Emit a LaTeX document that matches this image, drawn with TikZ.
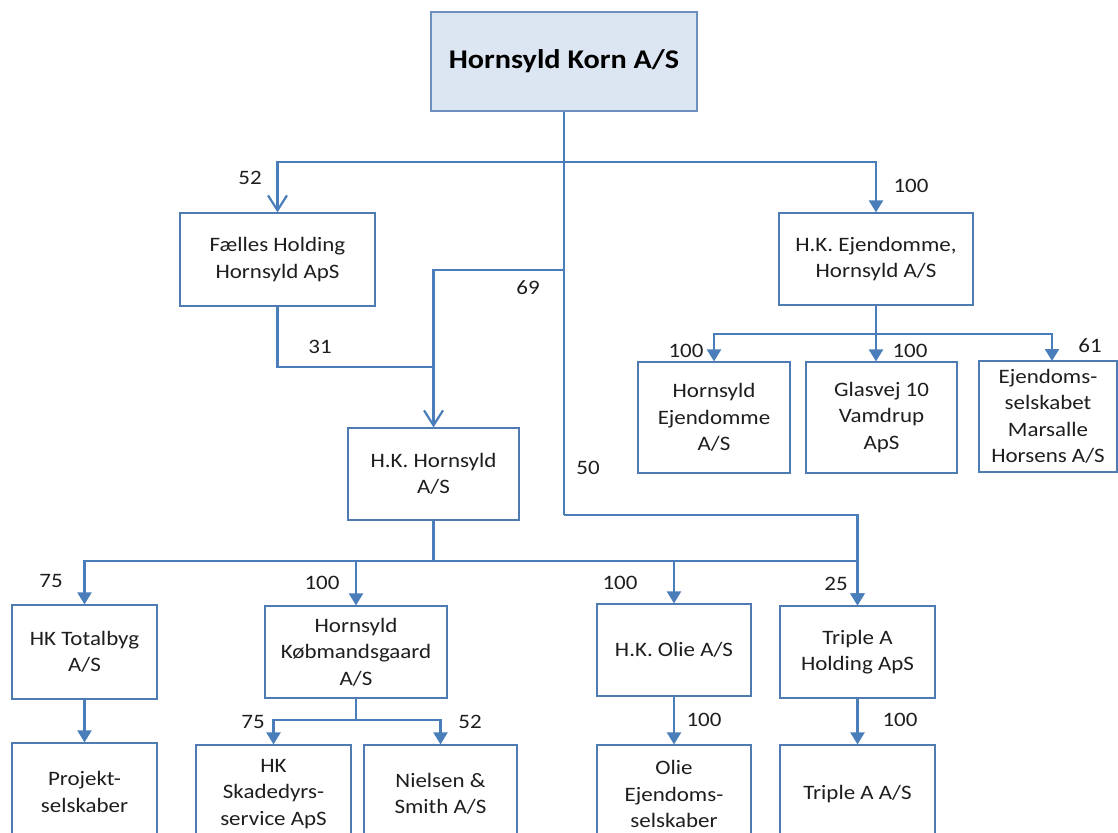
\documentclass[tikz,border=0pt]{standalone}
\usepackage{fontspec}
\setmainfont[FakeStretch=1.12]{Carlito}
\usetikzlibrary{arrows.meta}
\definecolor{lineblue}{HTML}{4A7EBB}
\definecolor{boxblue}{HTML}{4F7BB3}
\definecolor{titlefill}{HTML}{DCE6F2}
\definecolor{titleborder}{HTML}{6F8FBF}
\definecolor{txt}{HTML}{1E1E1E}
\tikzset{
  box/.style={draw=boxblue, line width=1.2pt, fill=white, align=center, inner sep=2pt,
    font=\fontsize{20.5}{26.5}\selectfont, text=txt},
  titlebox/.style={draw=titleborder, line width=1.3pt, fill=titlefill, align=center,
    font=\fontsize{27}{30}\selectfont\bfseries, text=black},
  conn/.style={draw=lineblue, line width=2.2pt},
  tri/.style={-{Triangle[width=14pt,length=12pt]}},
  barb/.style={-{Straight Barb[width=19pt,length=15pt]}},
  pct/.style={font=\fontsize{20.5}{22}\selectfont, text=txt, inner sep=0pt},
}
\begin{document}
\begin{tikzpicture}[x=1pt,y=-1pt]
\useasboundingbox (0,0) rectangle (1118,832);
\clip (0,0) rectangle (1118,832);
\fill[white] (0,0) rectangle (1118,832);

% nodes
\node[titlebox, minimum width=266pt, minimum height=99pt] (top) at (564,61.5) {Hornsyld Korn A/S};
\node[box, minimum width=195pt, minimum height=93pt] (fh) at (277.5,259.5) {Fælles Holding\\Hornsyld ApS};
\node[box, minimum width=194pt, minimum height=92pt] (hke) at (876,259) {H.K. Ejendomme,\\Hornsyld A/S};
\node[box, minimum width=171pt, minimum height=92pt] (hkh) at (433.5,474) {H.K. Hornsyld\\A/S};
\node[box, minimum width=152pt, minimum height=111pt] (he) at (714,417.5) {Hornsyld\\Ejendomme\\A/S};
\node[box, minimum width=151pt, minimum height=111pt] (gv) at (881.5,417.5) {Glasvej 10\\Vamdrup\\ApS};
\node[box, minimum width=138pt, minimum height=111pt] (em) at (1048,416.5) {Ejendoms-\\selskabet\\Marsalle\\Horsens A/S};
\node[box, minimum width=145pt, minimum height=94pt] (tb) at (84.5,652) {HK Totalbyg\\A/S};
\node[box, minimum width=182pt, minimum height=92pt] (kb) at (356,652) {Hornsyld\\Købmandsgaard\\A/S};
\node[box, minimum width=154pt, minimum height=92pt] (olie) at (674,650) {H.K. Olie A/S};
\node[box, minimum width=155pt, minimum height=92pt] (ta) at (857.5,652) {Triple A\\Holding ApS};
\node[box, minimum width=145pt, minimum height=98pt] (proj) at (84.5,792) {Projekt-\\selskaber};
\node[box, minimum width=155pt, minimum height=98pt] (sk) at (273.5,794) {HK\\Skadedyrs-\\service ApS};
\node[box, minimum width=153pt, minimum height=98pt] (ns) at (440.5,794) {Nielsen \&\\Smith A/S};
\node[box, minimum width=154pt, minimum height=98pt] (oe) at (674,794) {Olie\\Ejendoms-\\selskaber};
\node[box, minimum width=155pt, minimum height=98pt] (taa) at (857.5,794) {Triple A A/S};

% junction coordinates
\coordinate (h1) at (564,162);
\coordinate (h2) at (564,270);
\coordinate (j50) at (564,515);
\coordinate (j31) at (433.5,367);
\coordinate (h3) at (433.5,561);
\coordinate (h4) at (356,720);
\coordinate (h5) at (876,334);
\coordinate (emin) at (1052,361);

% connectors
\draw[conn] (top.south) -- (j50);
\draw[conn, barb] (h1) -| (fh.north);
\draw[conn, tri] (h1) -| (hke.north);
\draw[conn, barb] (h2) -| (hkh.north);
\draw[conn] (fh.south) |- (j31);
\draw[conn, tri] (j50) -| (ta.north);
\draw[conn] (hkh.south) -- (h3);
\draw[conn, tri] (h3) -| (tb.north);
\draw[conn, tri] (h3) -| (kb.north);
\draw[conn, tri] (h3) -| (olie.north);
\draw[conn, tri] (h3) -| (ta.north);
\draw[conn, tri] (tb.south) -- (proj.north);
\draw[conn] (kb.south) -- (h4);
\draw[conn, tri] (h4) -| (sk.north);
\draw[conn, tri] (h4) -| (ns.north);
\draw[conn, tri] (olie.south) -- (oe.north);
\draw[conn, tri] (ta.south) -- (taa.north);
\draw[conn] (hke.south) -- (h5);
\draw[conn, tri] (h5) -| (he.north);
\draw[conn, tri] (h5) -- (h5 |- gv.north);
\draw[conn, tri] (h5) -| (emin);

% percentages
\node[pct] (p52a) at (250,178) {52};
\node[pct] (p100a) at (911,186) {100};
\node[pct] (p69) at (528,288) {69};
\node[pct] (p31) at (320,347) {31};
\node[pct] (p50) at (588,468) {50};
\node[pct] (p100b) at (686,351) {100};
\node[pct] (p100c) at (910,351) {100};
\node[pct] (p61) at (1090,346) {61};
\node[pct] (p75a) at (51,581) {75};
\node[pct] (p100d) at (322,583) {100};
\node[pct] (p100e) at (620,583) {100};
\node[pct] (p25) at (836,584) {25};
\node[pct] (p75b) at (253,722) {75};
\node[pct] (p52b) at (470,722) {52};
\node[pct] (p100f) at (704,720) {100};
\node[pct] (p100g) at (900,720) {100};
\end{tikzpicture}
\end{document}
